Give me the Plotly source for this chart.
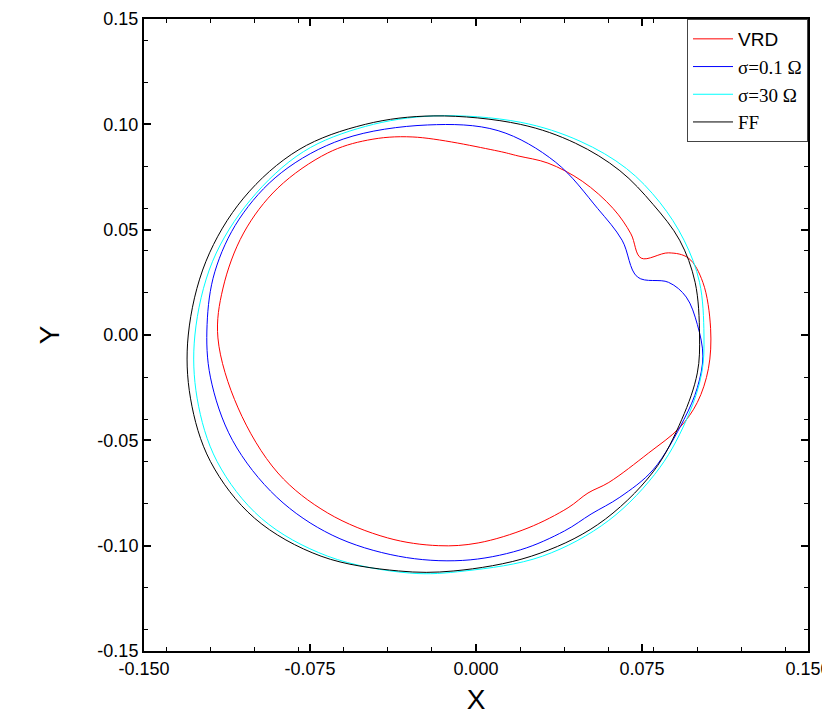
import plotly.graph_objects as go

# VRD (red)
vrd_x = [-0.0285, 0.010, 0.019, 0.0325, 0.048, 0.062, 0.070, 0.0746, 0.087, 0.096, 0.1025, 0.106, 0.105, 0.100,
         0.092, 0.078, 0.060, 0.0506, 0.0416, 0.0235, 0.001, -0.017, -0.040, -0.067, -0.0895, -0.1075,
         -0.1166, -0.1143, -0.105, -0.0895, -0.067, -0.049, -0.0285]
vrd_y = [0.094, 0.0873, 0.085, 0.0816, 0.073, 0.060, 0.048, 0.0365, 0.039, 0.0365, 0.025, 0.003, -0.016, -0.032,
         -0.044, -0.056, -0.070, -0.075, -0.082, -0.0916, -0.0987, -0.100, -0.0963, -0.0845, -0.0655, -0.0346,
         -0.0014, 0.0223, 0.0484, 0.0698, 0.0864, 0.0925, 0.094]

# sigma = 0.1 Ohm (blue)
s01_x = [0.073, 0.087, 0.095, 0.100, 0.1025, 0.100, 0.094, 0.080, 0.065, 0.052, 0.040, 0.020, -0.006,
         -0.035, -0.065, -0.090, -0.110, -0.120, -0.1215, -0.118, -0.107, -0.088, -0.060, -0.022, 0.010,
         0.036, 0.055, 0.066, 0.073]
s01_y = [0.0275, 0.025, 0.018, 0.005, -0.010, -0.025, -0.040, -0.064, -0.077, -0.085, -0.093, -0.102, -0.107,
         -0.105, -0.095, -0.077, -0.050, -0.020, 0.005, 0.030, 0.055, 0.077, 0.093, 0.0997, 0.097,
         0.082, 0.060, 0.045, 0.0275]

# sigma = 30 Ohm (cyan)
s30_x = [0.103, 0.101, 0.094, 0.083, 0.068, 0.047, 0.020, -0.019, -0.050, -0.078, -0.102, -0.119, -0.127,
         -0.126, -0.117, -0.097, -0.067, -0.030, -0.005, 0.030, 0.060, 0.083, 0.096, 0.102, 0.103]
s30_y = [0.000, 0.025, 0.045, 0.063, 0.079, 0.092, 0.101, 0.104, 0.099, 0.087, 0.064, 0.035, 0.000,
         -0.030, -0.060, -0.087, -0.105, -0.113, -0.112, -0.105, -0.088, -0.063, -0.038, -0.018, 0.000]

# FF (black)
ff_x = [0.101, 0.099, 0.092, 0.080, 0.065, 0.045, 0.020, -0.019, -0.050, -0.080, -0.105, -0.122, -0.130,
        -0.129, -0.120, -0.100, -0.070, -0.035, -0.010, 0.025, 0.055, 0.080, 0.093, 0.100, 0.101]
ff_y = [0.000, 0.025, 0.045, 0.062, 0.078, 0.091, 0.100, 0.104, 0.100, 0.088, 0.065, 0.035, 0.000,
        -0.030, -0.060, -0.087, -0.105, -0.112, -0.112, -0.105, -0.090, -0.065, -0.040, -0.018, 0.000]

x_ticks = [-0.150, -0.075, 0.000, 0.075, 0.150]
y_ticks = [-0.15, -0.10, -0.05, 0.00, 0.05, 0.10, 0.15]

fig = go.Figure()
for xs, ys, name, color in [
    (vrd_x, vrd_y, "<span style='font-family:Arial'>VRD</span>", "red"),
    (s01_x, s01_y, "σ=0.1 Ω", "blue"),
    (s30_x, s30_y, "σ=30 Ω", "cyan"),
    (ff_x, ff_y, "FF", "black"),
]:
    fig.add_trace(go.Scatter(x=xs, y=ys, mode="lines", name=name,
                             line=dict(color=color, width=1, shape="spline", smoothing=1.0)))

axis_common = dict(showgrid=False, zeroline=False, showline=True, linecolor="black", linewidth=2,
                   mirror="ticks", ticks="inside", ticklen=7, tickwidth=2, tickcolor="black",
                   automargin=False,
                   tickfont=dict(family="Arial", size=18, color="black"),
                   minor=dict(ticks="inside", ticklen=4, tickwidth=1, tickcolor="black"))
fig.update_xaxes(range=[-0.15, 0.15], tickvals=x_ticks, ticktext=[f"{v:.3f}" for v in x_ticks],
                 title=dict(text="X", font=dict(family="Arial", size=28, color="black"), standoff=12),
                 **axis_common)
fig.update_yaxes(range=[-0.15, 0.15], tickvals=y_ticks, ticktext=[f"{v:.2f}" for v in y_ticks],
                 title=dict(text="Y", font=dict(family="Arial", size=28, color="black"), standoff=30),
                 **axis_common)
fig.update_layout(
    width=830, height=726, plot_bgcolor="white", paper_bgcolor="white",
    margin=dict(l=136, r=30, t=11, b=83, autoexpand=False),
    legend=dict(x=1, y=1, xanchor="right", yanchor="top", bgcolor="white", bordercolor="#444",
                borderwidth=1, font=dict(family="Times New Roman, Liberation Serif", size=19, color="black"),
                tracegroupgap=0, itemwidth=40),
    showlegend=True,
)
fig.write_html("out.html")
